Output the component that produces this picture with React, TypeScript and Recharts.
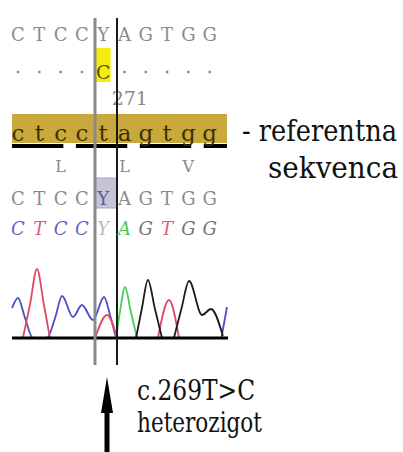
import {
  ComposedChart,
  Line,
  Scatter,
  XAxis,
  YAxis,
  ReferenceLine,
  ReferenceArea,
  Customized,
} from 'recharts'

// sequence rows (one entry per base position)
const CALLED_BASES = ['C', 'T', 'C', 'C', 'Y', 'A', 'G', 'T', 'G', 'G']
const RULER_MARKS = ['.', '.', '.', '.', 'C', '.', '.', '.', '.', '.']
const REF_BASES = ['c', 't', 'c', 'c', 't', 'a', 'g', 't', 'g', 'g']
const AMINO_POS = [2, 5, 8]
const AMINO_ACIDS = ['L', 'L', 'V']
const CODON_STARTS = [0, 3, 6, 9]
const VARIANT_POS = 4
const RULER_LABEL = '271'
const RULER_LABEL_POS = 5.25

// chromatogram traces: [base position, signal]
const TRACE_C: (number[] | null)[] = [
  [-0.28, 30], [0, 40], [0.33, 20], [0.7, 0], [1.36, 0], [1.74, 20], [2.07, 42],
  [2.58, 21], [3.0, 33], [3.52, 18], [4.04, 41], [4.32, 23], [4.6, 0], null,
  [9.55, 0], [9.81, 31],
]
const TRACE_T: (number[] | null)[] = [
  [0.23, 0], [0.56, 33], [0.89, 69], [1.22, 33], [1.5, 0], null,
  [3.62, 0], [4.18, 23], [4.65, 0], null,
  [6.57, 0], [7.09, 38], [7.56, 0],
]
const TRACE_A: (number[] | null)[] = [[4.6, 0], [4.8, 28], [5.02, 51], [5.3, 26], [5.59, 0]]
const TRACE_G: (number[] | null)[] = [
  [5.54, 0], [5.82, 30], [6.1, 58], [6.42, 30], [6.76, 0], null,
  [7.32, 0], [7.68, 30], [8.03, 57], [8.64, 23], [9.06, 29], [9.62, 2],
]

// a null entry breaks the trace; give it an x between its neighbours
const toPoints = (t: (number[] | null)[]) =>
  t.map((p, i) => {
    if (p) return { x: p[0], y: p[1] }
    const prev = t[i - 1] as number[]
    const next = t[i + 1] as number[]
    return { x: (prev[0] + next[0]) / 2, y: null }
  })

const row = (chars: string[], y: number) => chars.map((ch, i) => ({ x: i, y, ch }))

const W = 403
const H = 452
const BASE_PX = 338 // pixel row of the trace baseline
const X0 = 18
const STEP = 21.3
const v = (px: number) => BASE_PX - px // pixel row -> y value

const SERIF = 'DejaVu Serif'

const letter =
  (style: Record<string, any>, colorOf?: (ch: string) => string) =>
  (props: any) => (
    <text
      x={props.cx}
      y={props.cy}
      textAnchor="middle"
      fontFamily={SERIF}
      fill={colorOf ? colorOf(props.payload.ch) : '#8a8a8a'}
      style={{ fontFamily: SERIF, fontSize: 18, ...style }}
    >
      {props.payload.ch}
    </text>
  )

const BASE_COLORS: Record<string, string> = {
  C: '#6262cc',
  T: '#de5c72',
  A: '#52c85a',
  G: '#747474',
  Y: '#bcbcbc',
}

const rulerShape = (props: any) =>
  props.payload.ch === '.' ? (
    <rect x={props.cx - 1.2} y={props.cy - 1.2} width={2.4} height={2.4} fill="#888" />
  ) : (
    <text
      x={props.cx}
      y={props.cy + 7}
      textAnchor="middle"
      fill="#5a5410"
      style={{ fontFamily: SERIF, fontSize: 19 }}
    >
      {props.payload.ch}
    </text>
  )

const big = { fontFamily: SERIF, fontSize: 30, fontStretch: 'condensed' as const }

const Annotations = () => (
  <g fill="#111">
    <text
      x={RULER_LABEL_POS * STEP + X0}
      y={105}
      textAnchor="middle"
      fill="#8a8a8a"
      style={{ fontFamily: SERIF, fontSize: 19 }}
    >
      {RULER_LABEL}
    </text>
    <text x={242} y={141} style={big} textLength={155} lengthAdjust="spacingAndGlyphs">
      - referentna
    </text>
    <text x={268} y={178} style={big} textLength={130} lengthAdjust="spacingAndGlyphs">
      sekvenca
    </text>
    <text x={137} y={400} style={{ ...big, fontSize: 28 }} textLength={118} lengthAdjust="spacingAndGlyphs">
      c.269T&gt;C
    </text>
    <text x={137} y={432} style={{ ...big, fontSize: 28 }} textLength={125} lengthAdjust="spacingAndGlyphs">
      heterozigot
    </text>
    <polygon points="107,377 113,413 101,413" fill="#000" />
    <rect x={104.5} y={410} width={5} height={42} fill="#000" />
  </g>
)

export default function App() {
  const xDomain = [-X0 / STEP, (W - X0) / STEP]
  const yDomain = [BASE_PX - H, BASE_PX]
  const left = VARIANT_POS - 0.385
  const right = VARIANT_POS + 0.648

  return (
    <div style={{ position: 'absolute', left: 0, top: 0, width: W, height: H, background: '#fff' }}>
      <ComposedChart width={W} height={H} margin={{ top: 0, right: 0, bottom: 0, left: 0 }}>
        <XAxis type="number" dataKey="x" domain={xDomain} hide allowDataOverflow />
        <YAxis type="number" dataKey="y" domain={yDomain} hide allowDataOverflow />

        {/* reference sequence band and highlight boxes */}
        <ReferenceArea x1={-0.28} x2={9.81} y1={v(143)} y2={v(114)} fill="#c9a83c" fillOpacity={1} stroke="none" />
        <ReferenceArea x1={left} x2={VARIANT_POS + 0.35} y1={v(82)} y2={v(48)} fill="#f4ee10" fillOpacity={1} stroke="none" />
        <ReferenceArea x1={left} x2={right} y1={v(208)} y2={v(178)} fill="#c4c4d4" fillOpacity={1} stroke="#a6a6b8" />

        {CODON_STARTS.map((s) => (
          <ReferenceLine
            key={s}
            segment={[
              { x: s - 0.28, y: v(146) },
              { x: Math.min(s + 2.13, 9.81), y: v(146) },
            ]}
            stroke="#000"
            strokeWidth={4}
          />
        ))}

        <Scatter data={row(CALLED_BASES, v(41))} shape={letter({})} isAnimationActive={false} />
        <Scatter data={row(RULER_MARKS, v(72))} shape={rulerShape} isAnimationActive={false} />
        <Scatter
          data={row(REF_BASES, v(141))}
          shape={letter({ fontSize: 23 }, () => '#3c3003')}
          isAnimationActive={false}
        />
        <Scatter
          data={AMINO_POS.map((p, i) => ({ x: p, y: v(172), ch: AMINO_ACIDS[i] }))}
          shape={letter({ fontSize: 16 })}
          isAnimationActive={false}
        />
        <Scatter
          data={row(CALLED_BASES, v(205))}
          shape={letter({}, (ch) => (ch === 'Y' ? '#5858a4' : '#8a8a8a'))}
          isAnimationActive={false}
        />
        <Scatter
          data={row(CALLED_BASES, v(235))}
          shape={letter({ fontStyle: 'italic' }, (ch) => BASE_COLORS[ch])}
          isAnimationActive={false}
        />

        <Line data={toPoints(TRACE_C)} dataKey="y" type="monotone" stroke="#4c4cc8" strokeWidth={1.8} dot={false} activeDot={false} isAnimationActive={false} />
        <Line data={toPoints(TRACE_T)} dataKey="y" type="monotone" stroke="#e04866" strokeWidth={1.8} dot={false} activeDot={false} isAnimationActive={false} />
        <Line data={toPoints(TRACE_A)} dataKey="y" type="monotone" stroke="#44d050" strokeWidth={1.8} dot={false} activeDot={false} isAnimationActive={false} />
        <Line data={toPoints(TRACE_G)} dataKey="y" type="monotone" stroke="#1c1c1c" strokeWidth={1.8} dot={false} activeDot={false} isAnimationActive={false} />

        <ReferenceLine segment={[{ x: -0.28, y: 0 }, { x: 9.86, y: 0 }]} stroke="#000" strokeWidth={3} />
        <ReferenceLine segment={[{ x: left, y: v(18) }, { x: left, y: v(365) }]} stroke="#8a8a8a" strokeWidth={3} />
        <ReferenceLine segment={[{ x: right, y: v(18) }, { x: right, y: v(365) }]} stroke="#1a1a1a" strokeWidth={2} />

        <Customized component={Annotations} />
      </ComposedChart>
    </div>
  )
}
